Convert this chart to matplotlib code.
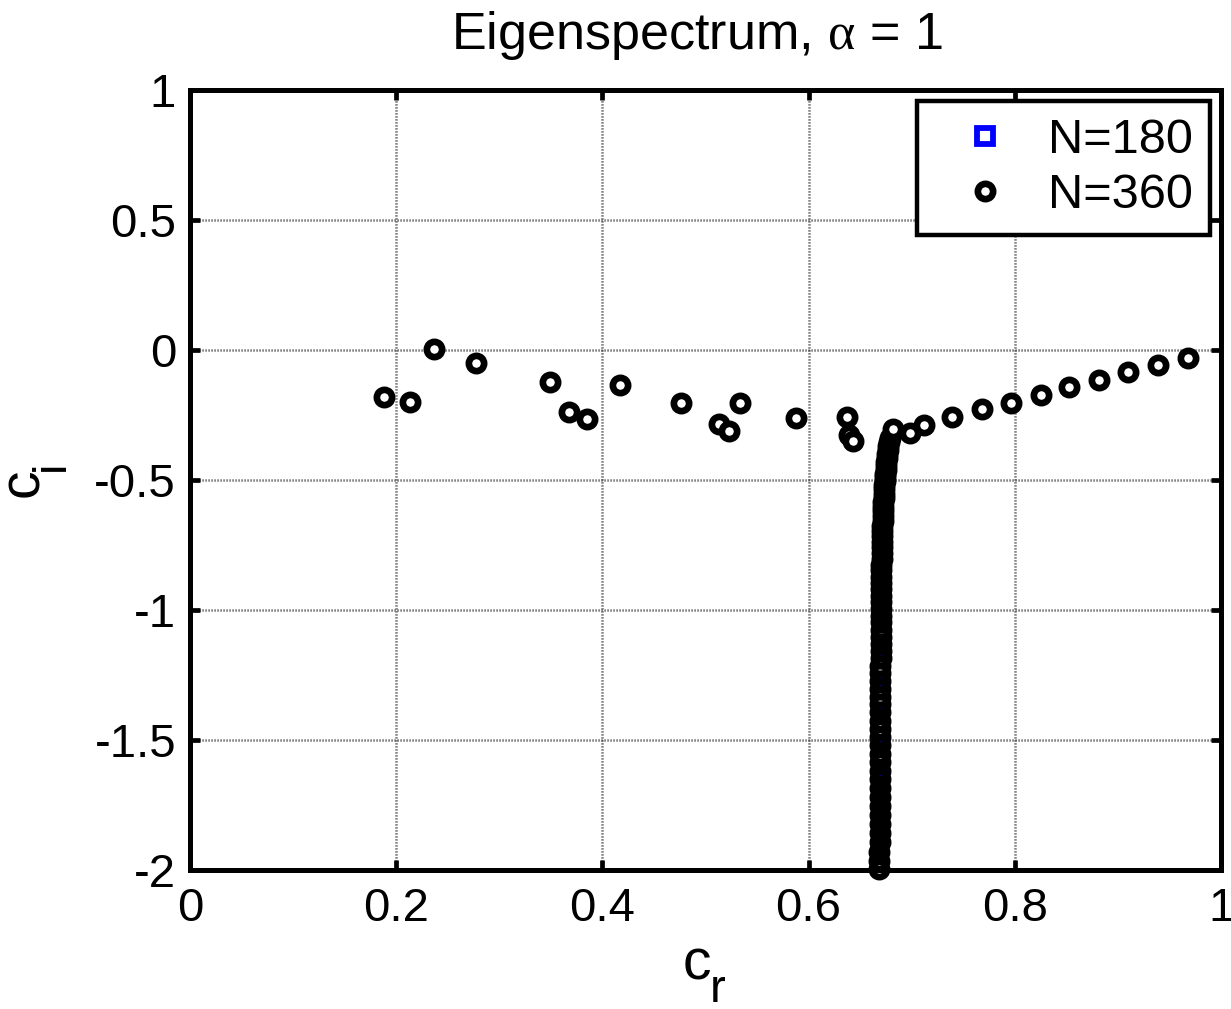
import matplotlib.pyplot as plt
from matplotlib.lines import Line2D

plt.rcParams['font.family'] = ['Liberation Sans', 'DejaVu Sans']
plt.rcParams['mathtext.fontset'] = 'custom'
plt.rcParams['mathtext.rm'] = 'Liberation Sans'
plt.rcParams['mathtext.it'] = 'Liberation Serif'

# discrete eigenvalues (same for both resolutions)
cr_disc = [0.188, 0.213, 0.237, 0.277, 0.349, 0.368, 0.385, 0.417, 0.476, 0.513,
           0.523, 0.533, 0.588, 0.637, 0.639, 0.643, 0.682, 0.698, 0.712, 0.739,
           0.768, 0.796, 0.825, 0.853, 0.882, 0.910, 0.939, 0.968]
ci_disc = [-0.180, -0.200, 0.004, -0.050, -0.123, -0.238, -0.265, -0.135, -0.205, -0.285,
           -0.312, -0.204, -0.263, -0.258, -0.327, -0.350, -0.305, -0.318, -0.287, -0.257,
           -0.228, -0.204, -0.173, -0.141, -0.115, -0.086, -0.058, -0.032]

# continuous branch, N=180
cr_180 = [0.678, 0.677, 0.677, 0.676, 0.676, 0.675, 0.675, 0.674, 0.674, 0.674,
          0.673, 0.673, 0.673, 0.672, 0.672, 0.672, 0.672, 0.671, 0.671, 0.671,
          0.671, 0.671, 0.671, 0.670, 0.670, 0.670, 0.670, 0.670, 0.670, 0.670,
          0.670, 0.670, 0.669, 0.669, 0.669, 0.669, 0.669, 0.669, 0.669, 0.669,
          0.669, 0.669, 0.669, 0.669, 0.669, 0.669, 0.668, 0.668, 0.668, 0.668]
ci_180 = [-0.345, -0.365, -0.385, -0.405, -0.425, -0.445, -0.466, -0.487, -0.509, -0.531,
          -0.554, -0.578, -0.602, -0.627, -0.652, -0.678, -0.705, -0.733, -0.761, -0.790,
          -0.820, -0.851, -0.882, -0.914, -0.947, -0.981, -1.015, -1.050, -1.086, -1.122,
          -1.159, -1.197, -1.235, -1.274, -1.314, -1.354, -1.395, -1.437, -1.479, -1.522,
          -1.566, -1.610, -1.655, -1.700, -1.746, -1.793, -1.840, -1.888, -1.937, -1.986]

# continuous branch, N=360
cr_360 = [0.679, 0.678, 0.677, 0.677, 0.676, 0.676, 0.675, 0.675, 0.675, 0.674,
          0.674, 0.674, 0.673, 0.673, 0.673, 0.673, 0.672, 0.672, 0.672, 0.672,
          0.672, 0.671, 0.671, 0.671, 0.671, 0.671, 0.671, 0.671, 0.670, 0.670,
          0.670, 0.670, 0.670, 0.670, 0.670, 0.670, 0.670, 0.670, 0.670, 0.670,
          0.670, 0.670, 0.670, 0.669, 0.669, 0.669, 0.669, 0.669, 0.669, 0.669,
          0.669, 0.669, 0.669, 0.669, 0.669, 0.669, 0.669, 0.669, 0.669, 0.669,
          0.669, 0.669, 0.669, 0.669, 0.669, 0.668, 0.668, 0.668]
ci_360 = [-0.340, -0.355, -0.370, -0.385, -0.400, -0.415, -0.430, -0.445, -0.460, -0.475,
          -0.490, -0.505, -0.520, -0.536, -0.552, -0.568, -0.585, -0.602, -0.620, -0.638,
          -0.657, -0.676, -0.696, -0.716, -0.737, -0.758, -0.780, -0.802, -0.825, -0.848,
          -0.872, -0.896, -0.920, -0.945, -0.970, -0.996, -1.022, -1.048, -1.075, -1.102,
          -1.130, -1.158, -1.186, -1.215, -1.244, -1.273, -1.303, -1.333, -1.363, -1.394,
          -1.425, -1.456, -1.488, -1.520, -1.552, -1.585, -1.618, -1.651, -1.685, -1.719,
          -1.753, -1.788, -1.823, -1.858, -1.894, -1.930, -1.966, -1.998]

W, H = 1231, 1009
fig = plt.figure(figsize=(W / 100, H / 100), dpi=100)
ax = fig.add_axes([190 / W, 1 - 870 / H, 1031 / W, 780 / H])

sq = dict(marker='s', ls='none', mfc='none', mec='blue', ms=7.5, mew=3.0, clip_on=False)
ci = dict(marker='o', ls='none', mec='black', ms=11, mew=4.8, clip_on=False)

# N=180 underneath, N=360 on top
ax.plot(cr_disc + cr_180, ci_disc + ci_180, **sq)
ax.plot(cr_360, ci_360, mfc='none', **ci)
ax.plot(cr_disc, ci_disc, mfc='white', **ci)

ax.set_xlim(0, 1)
ax.set_ylim(-2, 1)
ax.set_xticks([0, 0.2, 0.4, 0.6, 0.8, 1])
ax.set_xticklabels(['0', '0.2', '0.4', '0.6', '0.8', '1'])
ax.set_yticks([-2, -1.5, -1, -0.5, 0, 0.5, 1])
ax.set_yticklabels(['-2', '-1.5', '-1', '-0.5', '0', '0.5', '1'])

ax.grid(True, color='0.25', lw=1.8, linestyle=(0, (0.45, 0.75)))
ax.set_axisbelow(True)
for s in ax.spines.values():
    s.set_linewidth(3.6)
ax.tick_params(direction='in', length=7, width=3.4, labelsize=34,
               top=True, right=True, pad=10)
ax.tick_params(axis='x', pad=12)

fig.text(697 / W, 1 - 36 / H, r'Eigenspectrum, $\alpha$ = 1', fontsize=37.5,
         ha='center', va='center')

# axis labels with a deep subscript
fig.text(697 / W, 1 - 979 / H, 'c', fontsize=41, ha='center', va='baseline')
fig.text(718 / W, 1 - 1002 / H, 'r', fontsize=34, ha='center', va='baseline')
fig.text(50 / W, 1 - 483 / H, 'c', fontsize=41, rotation=90,
         ha='right', va='center')
fig.text(74 / W, 1 - 466 / H, 'i', fontsize=34, rotation=90,
         ha='right', va='center')

handles = [Line2D([], [], marker='s', ls='none', mfc='white', mec='blue', ms=11, mew=4.2),
           Line2D([], [], marker='o', ls='none', mfc='white', mec='black', ms=11, mew=4.8)]
leg = ax.legend(handles, ['N=180', 'N=360'], loc='upper right', fontsize=35,
                fancybox=False, framealpha=1, edgecolor='black',
                borderpad=0.35, borderaxespad=0.22, handlelength=2.1,
                handletextpad=0.25, labelspacing=0.22)
leg.get_frame().set_linewidth(3.2)

fig.savefig('out.png', dpi=100)
